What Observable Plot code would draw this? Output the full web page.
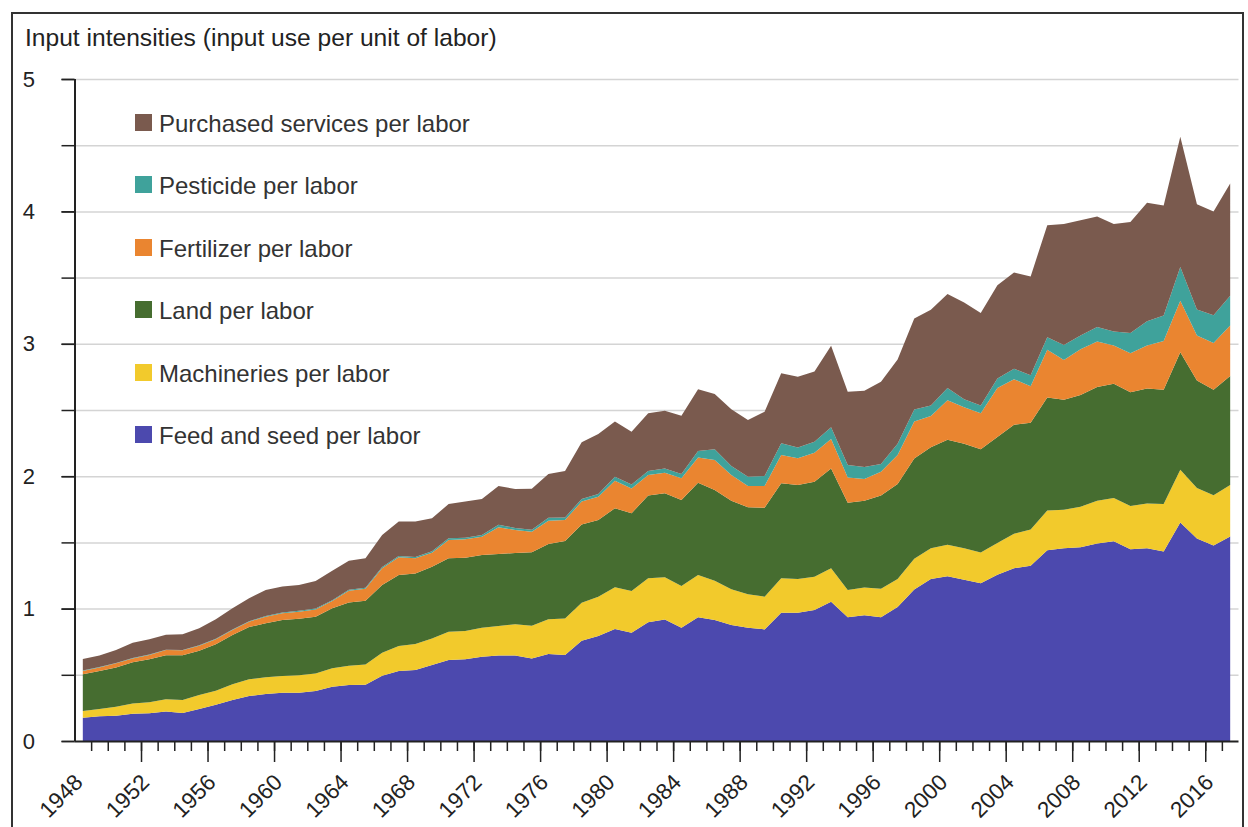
<!DOCTYPE html>
<html><head><meta charset="utf-8">
<script src="https://cdn.jsdelivr.net/npm/d3@7"></script>
<script src="https://cdn.jsdelivr.net/npm/@observablehq/plot@0.6"></script>
<style>
html,body{margin:0;padding:0;background:#fff;width:1248px;height:827px;overflow:hidden;font-family:"Liberation Sans",Arial,sans-serif;}
#frame{position:absolute;left:11px;top:12px;width:1233px;height:900px;border:2px solid #333;box-sizing:border-box;}
#title{position:absolute;left:25px;top:24px;font-size:24.6px;color:#222;white-space:nowrap;}
#chart{position:absolute;left:0;top:60px;}
#legend{position:absolute;left:135px;top:114px;}
.item{position:absolute;left:0;height:17px;white-space:nowrap;}
.sw{position:absolute;left:0;top:0;width:17px;height:17px;}
.lab{position:absolute;left:24px;top:-3px;font-size:24px;color:#333;line-height:26px;}
</style></head><body>
<div id="frame"></div>
<div id="title">Input intensities (input use per unit of labor)</div>
<div id="chart"></div>
<div id="legend"></div>
<script>
const years = d3.range(1948, 2018);
const feed = [0.176,0.186,0.191,0.206,0.209,0.222,0.211,0.242,0.274,0.310,0.340,0.355,0.365,0.365,0.378,0.410,0.423,0.425,0.493,0.529,0.536,0.574,0.612,0.617,0.637,0.645,0.645,0.624,0.657,0.650,0.758,0.793,0.846,0.818,0.896,0.917,0.856,0.934,0.914,0.876,0.856,0.843,0.969,0.969,0.989,1.052,0.934,0.950,0.934,1.013,1.145,1.224,1.245,1.218,1.192,1.255,1.305,1.324,1.440,1.455,1.464,1.491,1.509,1.449,1.455,1.431,1.650,1.530,1.476,1.545];
const machineries = [0.051,0.056,0.068,0.078,0.083,0.093,0.099,0.105,0.106,0.118,0.126,0.126,0.126,0.131,0.131,0.139,0.146,0.152,0.174,0.189,0.197,0.201,0.214,0.214,0.219,0.224,0.236,0.247,0.262,0.276,0.287,0.297,0.315,0.315,0.333,0.319,0.315,0.320,0.297,0.270,0.252,0.247,0.260,0.255,0.252,0.252,0.206,0.210,0.216,0.211,0.231,0.231,0.237,0.237,0.232,0.240,0.261,0.273,0.300,0.291,0.305,0.323,0.326,0.326,0.338,0.359,0.398,0.380,0.380,0.389];
const land = [0.277,0.287,0.297,0.310,0.325,0.332,0.337,0.335,0.350,0.373,0.395,0.408,0.423,0.428,0.430,0.453,0.478,0.483,0.511,0.536,0.533,0.542,0.554,0.554,0.549,0.543,0.539,0.554,0.569,0.585,0.591,0.579,0.596,0.587,0.626,0.635,0.649,0.697,0.685,0.669,0.657,0.672,0.717,0.710,0.718,0.755,0.660,0.655,0.705,0.718,0.758,0.763,0.794,0.790,0.779,0.802,0.823,0.806,0.855,0.832,0.845,0.860,0.863,0.860,0.869,0.863,0.889,0.812,0.797,0.823];
const fertilizer = [0.025,0.027,0.031,0.030,0.033,0.040,0.038,0.038,0.038,0.037,0.040,0.050,0.050,0.053,0.055,0.055,0.088,0.090,0.126,0.133,0.114,0.105,0.138,0.138,0.138,0.202,0.174,0.156,0.176,0.158,0.172,0.176,0.209,0.188,0.154,0.156,0.164,0.191,0.226,0.194,0.161,0.164,0.214,0.201,0.219,0.222,0.191,0.163,0.179,0.219,0.279,0.237,0.298,0.276,0.273,0.369,0.343,0.276,0.360,0.299,0.344,0.344,0.290,0.293,0.326,0.368,0.389,0.341,0.353,0.381];
const pesticide = [0.003,0.003,0.003,0.003,0.003,0.003,0.003,0.003,0.004,0.004,0.004,0.005,0.006,0.006,0.006,0.007,0.008,0.008,0.010,0.010,0.010,0.012,0.013,0.013,0.013,0.020,0.015,0.015,0.023,0.020,0.020,0.020,0.030,0.030,0.030,0.032,0.033,0.048,0.081,0.068,0.070,0.075,0.088,0.081,0.083,0.088,0.094,0.092,0.058,0.084,0.090,0.079,0.092,0.061,0.058,0.071,0.079,0.084,0.095,0.114,0.105,0.108,0.105,0.153,0.183,0.192,0.255,0.197,0.210,0.224];
const services = [0.087,0.086,0.097,0.116,0.115,0.113,0.118,0.128,0.147,0.160,0.173,0.196,0.196,0.195,0.208,0.222,0.219,0.222,0.242,0.260,0.267,0.248,0.259,0.272,0.272,0.292,0.294,0.310,0.330,0.350,0.428,0.454,0.418,0.398,0.436,0.435,0.440,0.466,0.418,0.428,0.428,0.486,0.529,0.536,0.529,0.617,0.553,0.575,0.621,0.637,0.689,0.724,0.710,0.729,0.698,0.705,0.728,0.745,0.846,0.913,0.871,0.835,0.811,0.838,0.895,0.832,0.982,0.794,0.784,0.848];

const seriesNames = ["Feed and seed per labor","Machineries per labor","Land per labor","Fertilizer per labor","Pesticide per labor","Purchased services per labor"];
const seriesColors = ["#4c49ae","#f2ca2c","#466d30","#ea8530","#3fa29b","#7a5a4e"];
const seriesValues = [feed, machineries, land, fertilizer, pesticide, services];
const majorYears = d3.range(1948, 2017, 4);
const minorYears = d3.range(1949, 2018);
const yTicks = d3.range(0, 5.01, 0.5);
const yLabels = [0,1,2,3,4,5];

const rows = seriesNames.flatMap((name, i) => years.map((yr, j) => ({series: name, year: yr + 0.5, value: seriesValues[i][j]})));

const chart = Plot.plot({
  width: 1248, height: 767,
  marginLeft: 74.5, marginRight: 9.5, marginTop: 19, marginBottom: 86,
  style: {fontFamily: '"Liberation Sans", Arial, sans-serif', background: "transparent", overflow: "visible"},
  x: {domain: [1948, 2018], axis: null},
  y: {domain: [0, 5], axis: null},
  color: {domain: seriesNames, range: seriesColors},
  marks: [
    Plot.gridY(yTicks.filter(d => d > 0), {stroke: "#d4d4d4", strokeOpacity: 1, strokeWidth: 1.5}),
    Plot.areaY(rows, {x: "year", y: "value", fill: "series", z: "series"}),
    Plot.axisY(yTicks, {tickSize: 13, text: null, label: null, stroke: "#222", strokeWidth: 1.5}),
    Plot.axisY(yLabels, {tickSize: 13, tickPadding: 27, fontSize: 22, label: null, fill: "#222", stroke: "#222", strokeWidth: 1.5, textAnchor: "end", tickFormat: d => String(d)}),
    Plot.ruleX([1948], {y1: 0, y2: 5, stroke: "#222", strokeWidth: 2}),
    Plot.ruleY([0], {x1: 1948, x2: 2018, stroke: "#222", strokeWidth: 2}),
    Plot.axisX(minorYears, {tickSize: 10, text: null, label: null, stroke: "#222", strokeWidth: 1.5}),
    Plot.axisX(majorYears.filter(d => d > 1948), {tickSize: 21, text: null, label: null, stroke: "#222", strokeWidth: 1.5}),
    Plot.axisX(majorYears, {tickSize: 0, tickPadding: 27, tickRotate: -45, fontSize: 22.5, label: null, fill: "#222", dx: 4, dy: 10, tickFormat: d => String(d)})
  ]
});
document.getElementById("chart").appendChild(chart);

const legend = document.getElementById("legend");
const legendOrder = [5,4,3,2,1,0];
legendOrder.forEach((i, k) => {
  const item = document.createElement("div");
  item.className = "item";
  item.style.top = (k * 62.4) + "px";
  item.innerHTML = `<div class="sw" style="background:${seriesColors[i]}"></div><div class="lab">${seriesNames[i]}</div>`;
  legend.appendChild(item);
});
</script>
</body></html>
